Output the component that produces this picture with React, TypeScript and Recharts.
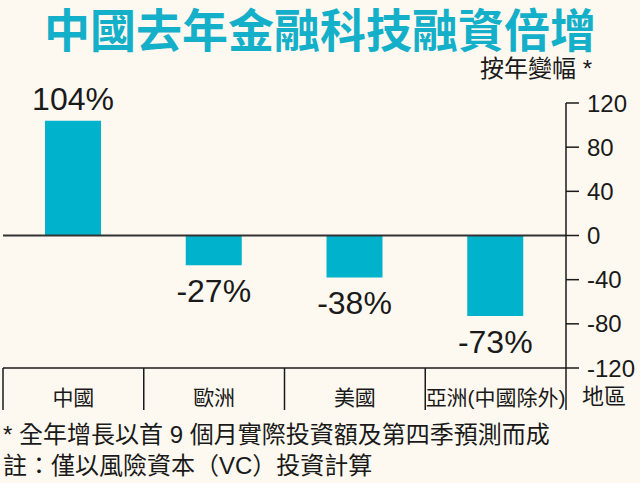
import React from "react";
import { BarChart, Bar, XAxis, YAxis, ReferenceLine, LabelList } from "recharts";

// 地區及按年變幅 (%)
const regions = ["中國", "歐洲", "美國", "亞洲(中國除外)"];
const changes = [104, -27, -38, -73];
const yTicks = [-120, -80, -40, 0, 40, 80, 120];

const title = "中國去年金融科技融資倍增";
const subtitle = "按年變幅 *";
const axisName = "地區";
const notes = [
  "* 全年增長以首 9 個月實際投資額及第四季預測而成",
  "註：僅以風險資本（VC）投資計算",
];

const data = regions.map((region, i) => ({ region, change: changes[i] }));

const BG = "#fdf9f0";
const TEAL = "#00b2cc";
const INK = "#1a1a1a";
const FONT = "'Liberation Sans', Arial, 'Noto Sans CJK TC', sans-serif";

// category cell with the table separators
const RegionTick = (props: any) => {
  const { x, y, payload, index } = props;
  const half = payload?.offset || 70.4;
  const last = index === regions.length - 1;
  return (
    <g>
      <line x1={x - half} x2={x - half} y1={y} y2={y + 42} stroke={INK} strokeWidth={1.5} />
      {last && (
        <line x1={x + half} x2={x + half} y1={y} y2={y + 42} stroke={INK} strokeWidth={1.5} />
      )}
      <text
        x={x}
        y={y + 29}
        textAnchor="middle"
        dominantBaseline="central"
        fontSize={21}
        fill={INK}
        fontFamily={FONT}
      >
        {payload.value}
      </text>
    </g>
  );
};

// value label above positive bars, below negative ones
const ValueLabel = (props: any) => {
  const { x, y, width, height, value } = props;
  const top = Math.min(y, y + height);
  const bottom = Math.max(y, y + height);
  const ty = value >= 0 ? top - 22 : bottom + 26;
  return (
    <text
      x={x + width / 2}
      y={ty}
      textAnchor="middle"
      dominantBaseline="central"
      fontSize={32}
      fill={INK}
      fontFamily={FONT}
    >
      {`${value}%`}
    </text>
  );
};

export default function App() {
  return (
    <div
      style={{
        position: "absolute",
        left: 0,
        top: 0,
        width: 640,
        height: 483,
        background: BG,
        fontFamily: FONT,
        overflow: "hidden",
      }}
    >
      <div
        style={{
          position: "absolute",
          left: 0,
          top: 0,
          width: 640,
          textAlign: "center",
          fontSize: 46,
          lineHeight: "54px",
          fontWeight: "bold",
          color: "#14afc9",
          fontFamily: "'Noto Sans CJK TC', sans-serif",
        }}
      >
        {title}
      </div>
      <div
        style={{
          position: "absolute",
          left: 480,
          top: 56,
          fontSize: 24,
          lineHeight: "26px",
          color: INK,
          whiteSpace: "nowrap",
        }}
      >
        {subtitle}
      </div>

      <div style={{ position: "absolute", left: 0, top: 0 }}>
        <BarChart
          width={640}
          height={483}
          data={data}
          margin={{ top: 103, right: 0, left: 3, bottom: 75 }}
        >
          <XAxis
            dataKey="region"
            height={40}
            interval={0}
            tickSize={0}
            tickMargin={0}
            tickLine={false}
            axisLine={{ stroke: INK, strokeWidth: 1.5 }}
            tick={<RegionTick />}
          />
          <YAxis
            orientation="right"
            width={74}
            domain={[-120, 120]}
            ticks={yTicks}
            interval={0}
            tickSize={13}
            tickMargin={8}
            axisLine={{ stroke: INK, strokeWidth: 1.5 }}
            tickLine={{ stroke: INK, strokeWidth: 1.5 }}
            tick={{ fontSize: 24, fill: INK, fontFamily: FONT }}
          />
          <ReferenceLine y={0} stroke="#333" strokeWidth={2} />
          <Bar dataKey="change" fill={TEAL} barSize={56} isAnimationActive={false}>
            <LabelList dataKey="change" content={<ValueLabel />} />
          </Bar>
        </BarChart>
      </div>

      <div
        style={{
          position: "absolute",
          left: 582,
          top: 384,
          fontSize: 22,
          lineHeight: "26px",
          color: INK,
          whiteSpace: "nowrap",
        }}
      >
        {axisName}
      </div>

      {notes.map((n, i) => (
        <div
          key={n}
          style={{
            position: "absolute",
            left: 3,
            top: 422 + i * 31,
            fontSize: 24,
            lineHeight: "26px",
            color: INK,
            whiteSpace: "nowrap",
          }}
        >
          {n}
        </div>
      ))}
    </div>
  );
}
